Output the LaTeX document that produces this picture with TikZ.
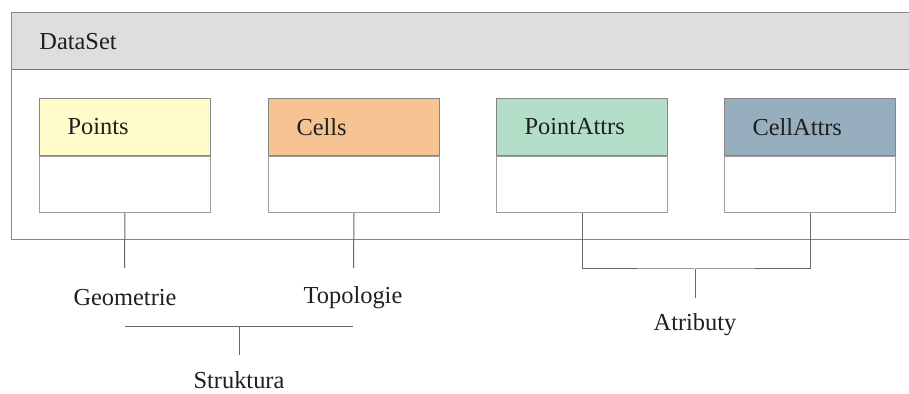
\documentclass[tikz,border=0pt]{standalone}
\usepackage{fontspec}
\setmainfont{Liberation Serif}
\usepackage{xcolor}
\usetikzlibrary{positioning}
\definecolor{dsgray}{HTML}{DEDEDE}
\definecolor{dsline}{HTML}{868686}
\definecolor{ptsyellow}{HTML}{FFFBCB}
\definecolor{cellorange}{HTML}{F5C492}
\definecolor{pattrgreen}{HTML}{B5DEC9}
\definecolor{cattrblue}{HTML}{96AEBE}

\begin{document}
\begin{tikzpicture}[x=0.5pt, y=-0.5pt,
    every node/.style={font=\fontsize{12.2}{14}\selectfont, text=black!88},
    head/.style={draw=dsline, line width=0.5pt, text width=57.5pt, inner xsep=14pt,
        minimum height=28.5pt, align=left, anchor=north west},
    body/.style={draw=dsline!80, line width=0.5pt, fill=white, minimum width=85.5pt, minimum height=28pt},
    conn/.style={draw=black!60, line width=0.5pt},
    lbl/.style={inner sep=1pt}]
    \useasboundingbox (0,0) rectangle (909,394);
    \clip (0,0) rectangle (909,394);

    % DataSet frame
    \fill[dsgray] (11,13) rectangle (930,70);
    \draw[dsline, line width=0.5pt] (930,13) -- (11,13) -- (11,240) -- (930,240);
    \draw[dsline!90!black, line width=0.5pt] (11,70) -- (930,70);
    \node[anchor=west, inner sep=0pt] (dsTitle) at (39,42) {DataSet};

    % Arrays
    \node[head, fill=ptsyellow] (ptsHead) at (39,98) {Points};
    \node[body, below=0pt of ptsHead] (ptsBody) {};

    \node[head, fill=cellorange] (cellHead) at (268,98) {Cells};
    \node[body, below=0pt of cellHead] (cellBody) {};

    \node[head, fill=pattrgreen] (patHead) at (496,98) {PointAttrs};
    \node[body, below=0pt of patHead] (patBody) {};

    \node[head, fill=cattrblue] (catHead) at (724,98) {CellAttrs};
    \node[body, below=0pt of catHead] (catBody) {};

    % Geometrie / Topologie
    \coordinate (geoEnd) at (124.5,268);
    \coordinate (topoEnd) at (353.5,268);
    \node[lbl] (geo) at (125,298) {Geometrie};
    \node[lbl] (topo) at (353,298) {Topologie};
    \draw[conn] (ptsBody.south) -- (geoEnd);
    \draw[conn] (cellBody.south) -- (topoEnd);

    % Struktura
    \coordinate (strBar) at (239,327);
    \coordinate (strEnd) at (239,355);
    \node[lbl] (str) at (239,380) {Struktura};
    \draw[conn] (geo.center |- strBar) -- (topo.center |- strBar);
    \draw[conn] (strBar) -- (strEnd);

    % Atributy
    \coordinate (attrBar) at (695,269);
    \coordinate (attrEnd) at (695,298);
    \node[lbl] (attr) at (695,325) {Atributy};
    \draw[conn] (patBody.south) |- (attrBar) -| (catBody.south);
    \draw[conn] (attrBar) -- (attrEnd);
\end{tikzpicture}
\end{document}
